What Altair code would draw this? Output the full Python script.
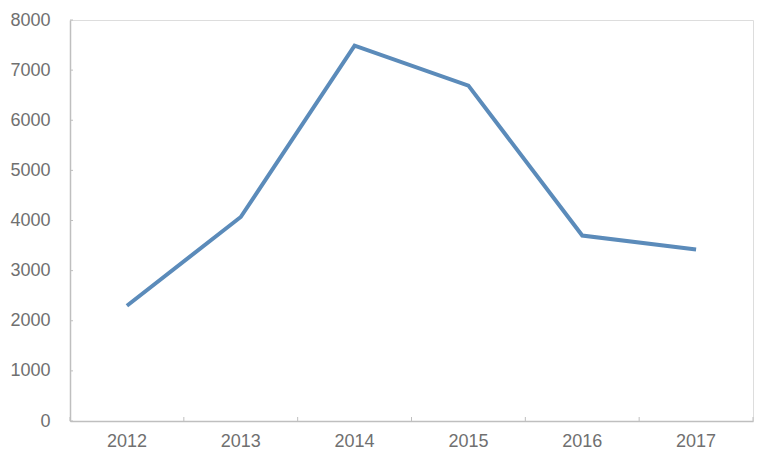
import altair as alt
import pandas as pd

years = ["2012", "2013", "2014", "2015", "2016", "2017"]
values = [2300, 4070, 7490, 6690, 3700, 3420]
y_ticks = [0, 1000, 2000, 3000, 4000, 5000, 6000, 7000, 8000]

df = pd.DataFrame({"year": years, "value": values})
tick_df = pd.DataFrame({"t": y_ticks})

W, H = 683, 401
AX = "#bfbfbf"
LAB = "#707070"
FONT = "Liberation Sans"

xscale = alt.Scale(domain=years, paddingInner=0, paddingOuter=0)
yscale = alt.Scale(domain=[0, 8000], nice=False)

line = alt.Chart(df).mark_line(color="#5b8bba", strokeWidth=4, strokeJoin="miter").encode(
    x=alt.X("year:O", scale=xscale, title=None,
            axis=alt.Axis(labelAngle=0, labelFontSize=18, labelColor=LAB, labelFont=FONT,
                          labelPadding=11, ticks=False, domainColor=AX, domainWidth=1.5)),
    y=alt.Y("value:Q", scale=yscale, title=None,
            axis=alt.Axis(values=y_ticks, format="d", labelFontSize=18, labelColor=LAB, labelFont=FONT,
                          labelPadding=20, ticks=False, grid=False, domainColor=AX, domainWidth=1.5)),
)

ytick_marks = alt.Chart(tick_df).mark_rule(color=AX, strokeWidth=1).encode(
    y=alt.Y("t:Q", scale=yscale),
    x=alt.value(0), x2=alt.value(3),
)

xtick_marks = alt.Chart(df).mark_rule(color=AX, strokeWidth=1).encode(
    x=alt.X("year:O", scale=xscale, bandPosition=0),
    y=alt.value(H - 4), y2=alt.value(H),
)
xtick_end = alt.Chart(df.tail(1)).mark_rule(color=AX, strokeWidth=1).encode(
    x=alt.X("year:O", scale=xscale, bandPosition=1),
    y=alt.value(H - 4), y2=alt.value(H),
)

chart = alt.layer(line, ytick_marks, xtick_marks, xtick_end).properties(
    width=W, height=H,
    autosize=alt.AutoSizeParams(type="none"),
    padding={"left": 62, "top": 12, "right": 4, "bottom": 40},
).configure_view(stroke=None).configure(background="white")

chart.save("out.html", embed_options={"renderer": "svg", "actions": False})
